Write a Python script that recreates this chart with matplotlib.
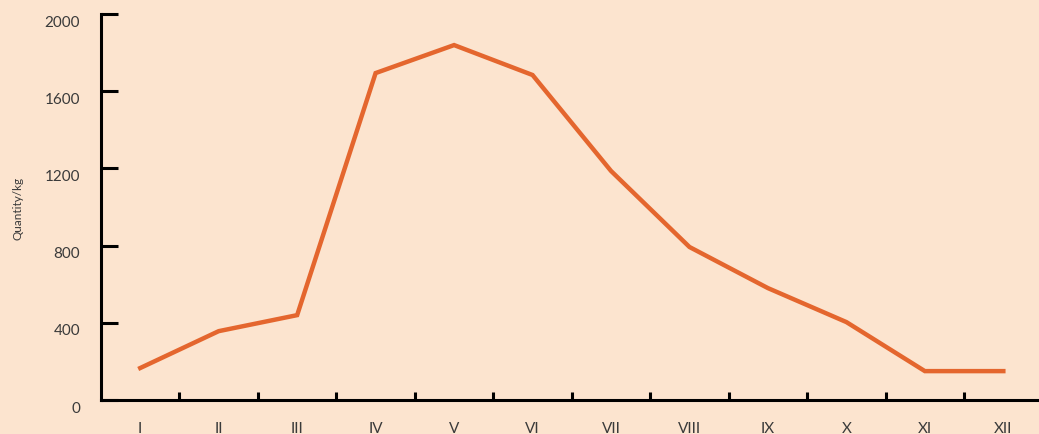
import numpy as np
import matplotlib
matplotlib.use('Agg')
import matplotlib.pyplot as plt
import matplotlib.transforms as mtransforms

# Monthly quantities (kg)
months = ['I', 'II', 'III', 'IV', 'V', 'VI', 'VII', 'VIII', 'IX', 'X', 'XI', 'XII']
quantity = [166, 357, 440, 1694, 1839, 1684, 1187, 793, 580, 404, 150, 150]
y_ticks = [0, 400, 800, 1200, 1600, 2000]

bg = '#fce4cf'
line_color = '#e4662e'
text_color = '#3a3a3a'

plt.rcParams['font.family'] = ['Lato', 'DejaVu Sans']

fig = plt.figure(figsize=(10.39, 4.35), dpi=100, facecolor=bg)
ax = fig.add_axes([0.0972, 0.078, 0.91, 0.8875], facecolor=bg)

x = np.arange(len(months))
ax.plot(x, quantity, color=line_color, lw=3.2, solid_joinstyle='miter')

ax.set_xlim(-0.5, 11.55)
ax.set_ylim(0, 2000)

# spines
for side in ['top', 'right']:
    ax.spines[side].set_visible(False)
for side in ['left', 'bottom']:
    ax.spines[side].set_linewidth(2.2)
    ax.spines[side].set_color('black')

# y ticks point inward, labels sit a little below their tick
ax.set_yticks(y_ticks)
ax.set_yticklabels([str(v) for v in y_ticks])
ax.tick_params(axis='y', direction='in', length=12, width=2.2, colors='black',
               labelcolor=text_color, labelsize=11, pad=15)
shift = mtransforms.ScaledTranslation(0, -6 / 100, fig.dpi_scale_trans)
for lbl in ax.get_yticklabels():
    lbl.set_transform(lbl.get_transform() + shift)

# x labels at month centres, small inward ticks between months
ax.set_xticks(x)
ax.set_xticklabels(months)
ax.tick_params(axis='x', which='major', length=0, labelcolor=text_color,
               labelsize=11, pad=15)
ax.set_xticks(x[:-1] + 0.5, minor=True)
ax.tick_params(axis='x', which='minor', direction='in', length=6, width=2.2,
               colors='black')

ax.set_ylabel('Quantity/kg', fontsize=8.5, color=text_color, labelpad=15)

fig.savefig('out.png', dpi=100, facecolor=bg)
